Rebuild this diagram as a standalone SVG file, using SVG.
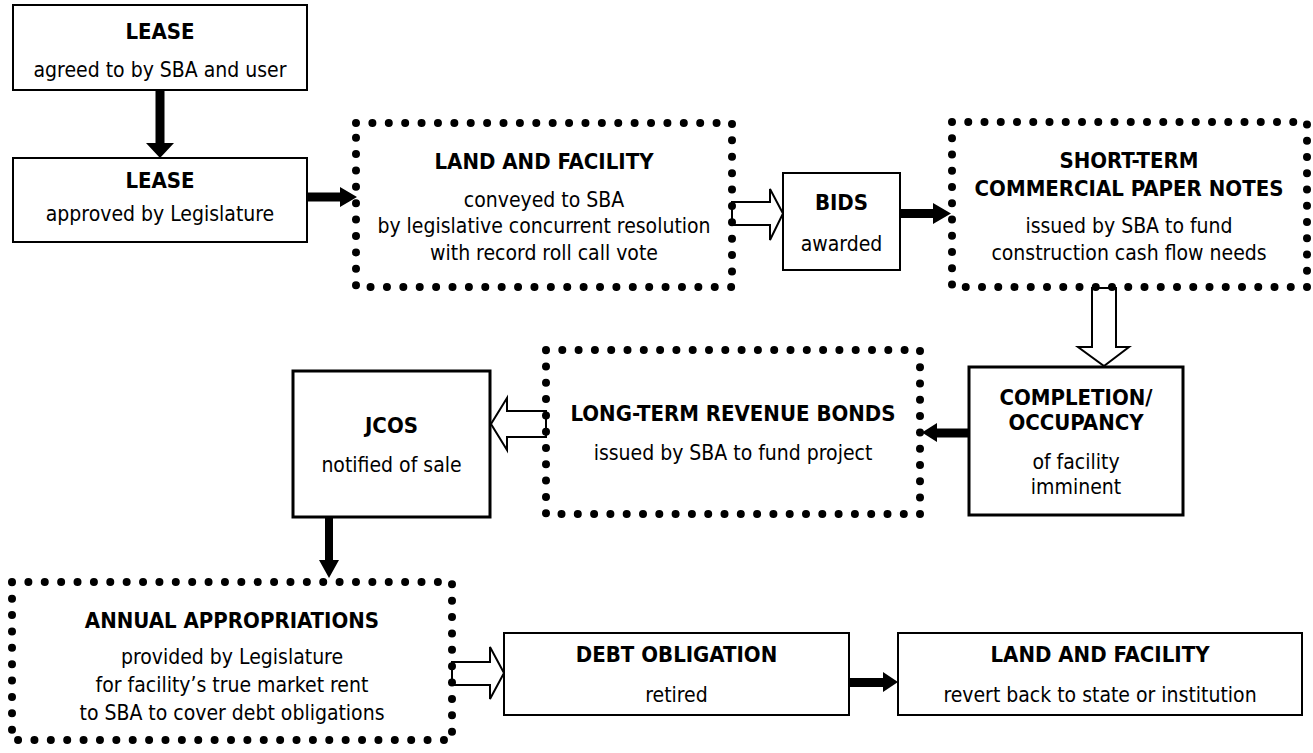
<svg xmlns="http://www.w3.org/2000/svg" width="1313" height="753" viewBox="0 0 1313 753">
<style>
.box{fill:#fff;stroke:#000;stroke-width:2}
.thick{stroke-width:3}
.dot{fill:none;stroke:#000;stroke-width:8;stroke-linecap:round}
text{font-family:"DejaVu Sans Condensed","DejaVu Sans",Verdana,sans-serif;text-anchor:middle;fill:#000}
.h{font-weight:bold;font-size:22px}
.t{font-size:21px}
.solid{fill:#000;stroke:none}
.hollow{fill:#fff;stroke:#000;stroke-width:2;stroke-linejoin:miter}
</style>
<rect width="1313" height="753" fill="#fff"/>
<g id="connectors">
  <polygon class="solid" points="155.5,90 164.5,90 164.5,143 174,143 160,158 146,143 155.5,143"/>
  <polygon class="solid" points="307,192.5 340,192.5 340,187 357,197 340,207 340,201.5 307,201.5"/>
  <polygon class="hollow" points="732,202 770,202 770,189 783,213.5 770,240 770,225 732,225"/>
  <polygon class="solid" points="900,209 933,209 933,203 951,213.5 933,224 933,218 900,218"/>
  <polygon class="hollow" points="1092,288 1116,288 1116,347 1129,347 1104,366 1078,347 1092,347"/>
  <polygon class="solid" points="969,428.5 937,428.5 937,423 922,432.5 937,442 937,437.5 969,437.5"/>
  <polygon class="hollow" points="546,411 507,411 507,398 491,424 507,450 507,437 546,437"/>
  <polygon class="solid" points="325,517 333,517 333,560 339,560 329,578 319,560 325,560"/>
  <polygon class="hollow" points="452,662 490,662 490,647 504,673 490,699 490,685 452,685"/>
  <polygon class="solid" points="849,678 883,678 883,672 898,682 883,692 883,687 849,687"/>
</g>
<g id="lease1">
  <rect class="box" x="13" y="5" width="294" height="85"/>
  <text class="h" x="160" y="39">LEASE</text>
  <text class="t" x="160" y="77">agreed to by SBA and user</text>
</g>
<g id="lease2">
  <rect class="box" x="13" y="158" width="294" height="84"/>
  <text class="h" x="160" y="188">LEASE</text>
  <text class="t" x="160" y="221">approved by Legislature</text>
</g>
<g id="land1">
  <rect class="dot" x="356" y="123" width="376" height="164" stroke-dasharray="0 16.39"/>
  <text class="h" x="544" y="169">LAND AND FACILITY</text>
  <text class="t" x="544" y="207">conveyed to SBA</text>
  <text class="t" x="544" y="233">by legislative concurrent resolution</text>
  <text class="t" x="544" y="260">with record roll call vote</text>
</g>
<g id="bids">
  <rect class="box" x="783" y="173" width="117" height="97"/>
  <text class="h" x="841.5" y="210">BIDS</text>
  <text class="t" x="841.5" y="251">awarded</text>
</g>
<g id="shortterm">
  <rect class="dot" x="952" y="122" width="355" height="165" stroke-dasharray="0 16.25"/>
  <text class="h" x="1129" y="168">SHORT-TERM</text>
  <text class="h" x="1129" y="196">COMMERCIAL PAPER NOTES</text>
  <text class="t" x="1129" y="233">issued by SBA to fund</text>
  <text class="t" x="1129" y="260">construction cash flow needs</text>
</g>
<g id="completion">
  <rect class="box thick" x="969" y="367" width="214" height="148"/>
  <text class="h" x="1076" y="405">COMPLETION/</text>
  <text class="h" x="1076" y="430">OCCUPANCY</text>
  <text class="t" x="1076" y="469">of facility</text>
  <text class="t" x="1076" y="494">imminent</text>
</g>
<g id="longterm">
  <rect class="dot" x="546" y="350" width="374" height="164" stroke-dasharray="0 16.30"/>
  <text class="h" x="733" y="421">LONG-TERM REVENUE BONDS</text>
  <text class="t" x="733" y="460">issued by SBA to fund project</text>
</g>
<g id="jcos">
  <rect class="box thick" x="293" y="371" width="197" height="146"/>
  <text class="h" x="391.5" y="433">JCOS</text>
  <text class="t" x="391.5" y="472">notified of sale</text>
</g>
<g id="annual">
  <rect class="dot" x="12" y="582" width="440" height="158" stroke-dasharray="0 16.38"/>
  <text class="h" x="232" y="628">ANNUAL APPROPRIATIONS</text>
  <text class="t" x="232" y="664">provided by Legislature</text>
  <text class="t" x="232" y="692">for facility’s true market rent</text>
  <text class="t" x="232" y="720">to SBA to cover debt obligations</text>
</g>
<g id="debt">
  <rect class="box" x="504" y="633" width="345" height="82"/>
  <text class="h" x="676.5" y="662">DEBT OBLIGATION</text>
  <text class="t" x="676.5" y="702">retired</text>
</g>
<g id="land2">
  <rect class="box" x="898" y="633" width="404" height="82"/>
  <text class="h" x="1100" y="662">LAND AND FACILITY</text>
  <text class="t" x="1100" y="702">revert back to state or institution</text>
</g>
</svg>
